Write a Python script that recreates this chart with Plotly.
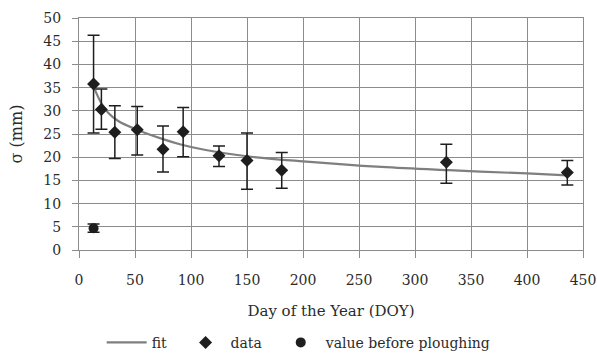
import plotly.graph_objects as go

doy = [13, 20, 32, 52, 75, 93, 125, 150, 181, 328, 436]
sigma = [35.8, 30.3, 25.4, 25.9, 21.7, 25.5, 20.3, 19.3, 17.2, 18.9, 16.7]
err_plus = [10.5, 4.4, 5.7, 5.0, 5.0, 5.2, 2.1, 5.9, 3.8, 3.9, 2.6]
err_minus = [10.6, 4.3, 5.7, 5.4, 4.9, 5.4, 2.3, 6.2, 3.9, 4.5, 2.7]

# Value before ploughing
doy_before = [13]
sigma_before = [4.7]
err_before = [0.9]

# Fitted curve, points
fit_doy = [13, 20, 26, 35, 50, 75, 90, 112, 150, 200, 270, 330, 400, 436]
fit_sigma = [35.2, 31.6, 29.6, 27.8, 26.1, 23.9, 22.8, 21.6, 20.2, 19.1, 17.9, 17.2, 16.5, 16.1]

x_ticks = list(range(0, 451, 50))
y_ticks = list(range(0, 51, 5))

FONT = "DejaVu Serif"
TXT = "#2b2b2b"
GRID = "#8c8c8c"
PAD = "\u00a0\u00a0"  # a little extra room between legend entries

fig = go.Figure()
fig.add_trace(go.Scatter(
    x=fit_doy, y=fit_sigma, mode="lines", name="fit" + PAD,
    line=dict(color="#7f7f7f", width=2.2, shape="spline", smoothing=1.0),
))
fig.add_trace(go.Scatter(
    x=doy, y=sigma, mode="markers", name="data" + PAD,
    marker=dict(symbol="diamond", size=10, color="#1e1e1e"),
    error_y=dict(type="data", symmetric=False, array=err_plus, arrayminus=err_minus,
                 color="#1e1e1e", thickness=1.5, width=6),
))
fig.add_trace(go.Scatter(
    x=doy_before, y=sigma_before, mode="markers", name="value before ploughing",
    marker=dict(symbol="circle", size=10, color="#1e1e1e"),
    error_y=dict(type="data", array=err_before, color="#1e1e1e", thickness=1.5, width=6),
))

fig.update_layout(
    width=597, height=353,
    margin=dict(l=79, r=14, t=18, b=103, autoexpand=False),
    plot_bgcolor="white", paper_bgcolor="white",
    font=dict(family=FONT, size=14, color=TXT),
    legend=dict(orientation="h", x=0.045, xanchor="left", y=-0.40, yanchor="middle",
                font=dict(size=14, color=TXT), itemwidth=40, tracegroupgap=0),
    showlegend=True,
)
fig.update_xaxes(
    range=[0, 450], tickvals=x_ticks, ticktext=[str(v) for v in x_ticks],
    automargin=False,
    showgrid=True, gridcolor=GRID, gridwidth=1.3,
    showline=True, linecolor=GRID, linewidth=1.3, mirror=True,
    ticks="outside", ticklen=7, tickcolor=GRID, tickwidth=1.3,
    ticklabelstandoff=10, zeroline=False,
    title=dict(text="Day of the Year (DOY)", font=dict(size=15, color=TXT), standoff=18),
)
fig.update_yaxes(
    range=[0, 50], tickvals=y_ticks, ticktext=[str(v) for v in y_ticks],
    automargin=False,
    showgrid=True, gridcolor=GRID, gridwidth=1.3,
    showline=True, linecolor=GRID, linewidth=1.3, mirror=True,
    ticks="outside", ticklen=6, tickcolor=GRID, tickwidth=1.3,
    ticklabelstandoff=8, zeroline=False,
    title=dict(text="σ (mm)", font=dict(size=16, color=TXT), standoff=16),
)

fig.write_html("out.html", config={"displayModeBar": False},
               post_script="document.body.style.margin='0';")
